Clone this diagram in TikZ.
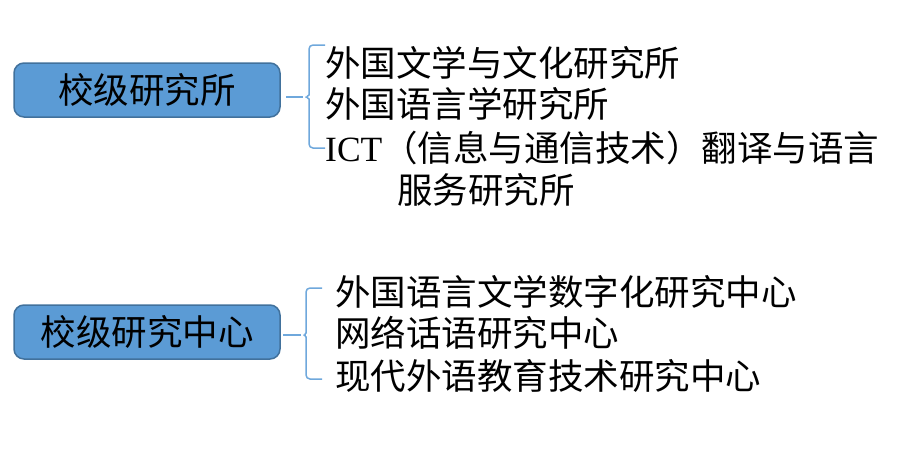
\documentclass[tikz,border=0pt]{standalone}
\usepackage{fontspec}
\setmainfont{Noto Sans CJK SC}
\newfontfamily\latinserif{Liberation Serif}
\definecolor{boxfill}{HTML}{5B9BD5}
\definecolor{boxline}{HTML}{41719C}
\definecolor{bracecol}{HTML}{6FA8DC}
\begin{document}
\begin{tikzpicture}[x=1pt,y=-1pt,
  lvl/.style={draw=boxline, line width=1.5pt, fill=boxfill, rounded corners=10pt,
    minimum width=266pt, minimum height=54pt, inner sep=0pt,
    font=\fontsize{35.5}{40}\selectfont},
  item/.style={anchor=base west, inner sep=0pt, font=\fontsize{35.5}{40}\selectfont},
  brace/.style={draw=bracecol, line width=1.5pt, rounded corners=4pt}]
\useasboundingbox (0,0) rectangle (910,463);

% top group
\node[lvl] (b1) at (147,90) {校级研究所};
\coordinate (s1) at (286,97);
\coordinate (t1) at (303,97);
\draw[brace] (s1) -- (t1);
\draw[brace] (325,45) -- (309,45) -- (309,91)
  .. controls (309,95) and (306,97) .. (t1)
  .. controls (306,97) and (309,99) .. (309,103)
  -- (309,148) -- (325,148);
\node[item] (i11) at (325,76) {外国文学与文化研究所};
\node[item] (i12) at (325,117) {外国语言学研究所};
\node[item] (i13) at (325,161) {{\latinserif ICT}（信息与通信技术）翻译与语言};
\node[item] (i14) at (397,203) {服务研究所};

% bottom group
\node[lvl] (b2) at (147,332) {校级研究中心};
\coordinate (s2) at (283,335);
\coordinate (t2) at (301,335);
\draw[brace] (s2) -- (t2);
\draw[brace] (322,288) -- (306,288) -- (306,329)
  .. controls (306,333) and (304,335) .. (t2)
  .. controls (304,335) and (306,337) .. (306,341)
  -- (306,379) -- (322,379);
\node[item] (i21) at (335,305) {外国语言文学数字化研究中心};
\node[item] (i22) at (335,346) {网络话语研究中心};
\node[item] (i23) at (335,389) {现代外语教育技术研究中心};
\end{tikzpicture}
\end{document}
